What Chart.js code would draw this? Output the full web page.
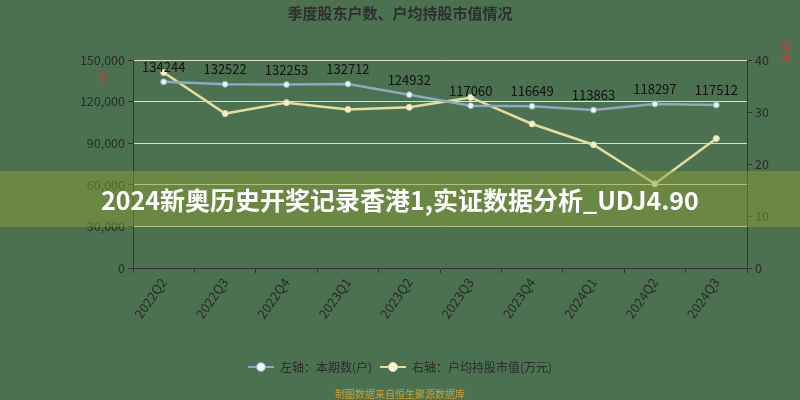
<!DOCTYPE html>
<html>
<head>
<meta charset="utf-8">
<script src="https://cdn.jsdelivr.net/npm/chart.js@4.4.1/dist/chart.umd.min.js"></script>
<style>
  html, body { margin: 0; padding: 0; background: #4b7151; }
  #wrap { position: relative; width: 800px; height: 400px; overflow: hidden; }
  #band {
    position: absolute; left: 0; top: 171px; width: 800px; height: 56px;
    background: rgba(138, 158, 56, 0.5);
    display: flex; align-items: center; justify-content: center;
    color: #fff; font: bold 25px 'Noto Sans CJK SC', sans-serif;
  }
</style>
</head>
<body>
<div id="wrap">
  <canvas id="grafico" width="800" height="400"></canvas>
  <div id="band">2024新奥历史开奖记录香港1,实证数据分析_UDJ4.90</div>
</div>
<script>
// datos
const quarters = ['2022Q2', '2022Q3', '2022Q4', '2023Q1', '2023Q2', '2023Q3', '2023Q4', '2024Q1', '2024Q2', '2024Q3'];
const holders = [134244, 132522, 132253, 132712, 124932, 117060, 116649, 113863, 118297, 117512];
const avgValue = [37.6, 29.7, 31.8, 30.5, 30.9, 32.8, 27.7, 23.7, 16.2, 24.9];
const leftTicks = [0, 30000, 60000, 90000, 120000, 150000];
const rightTicks = [0, 10, 20, 30, 40];

const titleText = '季度股东户数、户均持股市值情况';
const sourceText = '制图数据来自恒生聚源数据库';
const blue = '#8eaabf';
const yellow = '#e4dd9c';
const ink = '#2a2a2a';

Chart.defaults.font.family = "'Noto Sans CJK SC', sans-serif";
Chart.defaults.color = ink;

// icono de leyenda: línea con círculo
function legendIcon(lineColor, fill) {
  const c = document.createElement('canvas');
  c.width = 26; c.height = 12;
  const g = c.getContext('2d');
  g.strokeStyle = lineColor;
  g.lineWidth = 2;
  g.beginPath(); g.moveTo(0, 6); g.lineTo(26, 6); g.stroke();
  g.beginPath(); g.arc(13, 6, 4.5, 0, Math.PI * 2);
  g.fillStyle = fill; g.fill();
  g.lineWidth = 1; g.stroke();
  return c;
}
const icons = [legendIcon(blue, '#f4f8f6'), legendIcon(yellow, '#f6f4dc')];

const extraText = {
  id: 'extraText',
  afterDatasetsDraw(chart) {
    const ctx = chart.ctx;
    const meta = chart.getDatasetMeta(0);
    ctx.save();
    ctx.font = "13px 'Noto Sans CJK SC'";
    ctx.fillStyle = '#111';
    ctx.textAlign = 'center';
    ctx.textBaseline = 'middle';
    meta.data.forEach((pt, i) => ctx.fillText(String(holders[i]), pt.x, pt.y - 15));
    ctx.restore();
  },
  afterDraw(chart) {
    const ctx = chart.ctx;
    const a = chart.chartArea;
    ctx.save();
    ctx.textAlign = 'center';
    ctx.textBaseline = 'middle';
    ctx.font = "bold 15px 'Noto Sans CJK SC'";
    ctx.fillStyle = '#2e2e2e';
    ctx.fillText(titleText, chart.width / 2, 13);

    ctx.font = "9px 'Noto Sans CJK SC'";
    ctx.fillStyle = '#c8402e';
    ctx.save();
    ctx.translate(a.left - 31, a.top + 19);
    ctx.rotate(Math.PI / 2);
    ctx.fillText('(户)', 0, 0);
    ctx.restore();
    ctx.save();
    ctx.translate(a.right + 38, a.top - 7);
    ctx.rotate(Math.PI / 2);
    ctx.fillText('(万元)', 0, 0);
    ctx.restore();

    ctx.font = "10px 'Noto Sans CJK SC'";
    ctx.fillStyle = '#c9a23a';
    ctx.fillText(sourceText, chart.width / 2, 394);
    ctx.restore();
  }
};

const ctx = document.getElementById('grafico').getContext('2d');
new Chart(ctx, {
  type: 'line',
  data: {
    labels: quarters,
    datasets: [{
      label: '左轴：本期数(户)',
      data: holders,
      yAxisID: 'y',
      borderColor: blue,
      borderWidth: 2.5,
      pointRadius: 3,
      pointBackgroundColor: '#eef4f6',
      pointBorderColor: blue,
      pointBorderWidth: 1,
      tension: 0
    }, {
      label: '右轴：户均持股市值(万元)',
      data: avgValue,
      yAxisID: 'y1',
      borderColor: yellow,
      borderWidth: 2.5,
      pointRadius: 3,
      pointBackgroundColor: '#f4f1d2',
      pointBorderColor: yellow,
      pointBorderWidth: 1,
      tension: 0
    }]
  },
  options: {
    responsive: false,
    animation: false,
    layout: { padding: { top: 60, bottom: 17, left: 0, right: 0 } },
    plugins: {
      title: { display: false },
      tooltip: { enabled: false },
      legend: {
        position: 'bottom',
        labels: {
          usePointStyle: true,
          pointStyleWidth: 26,
          boxHeight: 12,
          padding: 8,
          color: ink,
          font: { size: 12 },
          generateLabels: chart => chart.data.datasets.map((ds, i) => ({
            text: ds.label,
            pointStyle: icons[i],
            datasetIndex: i,
            hidden: false,
            fontColor: ink,
            lineWidth: 0,
            strokeStyle: 'rgba(0,0,0,0)',
            fillStyle: 'rgba(0,0,0,0)'
          }))
        }
      }
    },
    scales: {
      x: {
        offset: true,
        grid: { offset: true, drawOnChartArea: false, color: '#333', tickLength: 5 },
        border: { color: '#333' },
        ticks: { autoSkip: false, minRotation: 55, maxRotation: 55, padding: 2, color: ink, font: { size: 13 } },
        afterFit: scale => { scale.height = 85; }
      },
      y: {
        position: 'left',
        min: 0,
        max: 150000,
        afterBuildTicks: scale => { scale.ticks = leftTicks.map(v => ({ value: v })); },
        grid: { color: 'rgba(232,238,215,0.9)', tickColor: '#333', tickLength: 5 },
        border: { color: '#333' },
        ticks: { padding: 3, color: ink, font: { size: 12.5 }, callback: v => v.toLocaleString('en-US') },
        afterFit: scale => { scale.width = 133; }
      },
      y1: {
        position: 'right',
        min: 0,
        max: 40,
        afterBuildTicks: scale => { scale.ticks = rightTicks.map(v => ({ value: v })); },
        grid: { drawOnChartArea: false, tickColor: '#333', tickLength: 5 },
        border: { color: '#333' },
        ticks: { padding: 3, color: ink, font: { size: 12.5 } },
        afterFit: scale => { scale.width = 53; }
      }
    }
  },
  plugins: [extraText]
});
</script>
</body>
</html>
